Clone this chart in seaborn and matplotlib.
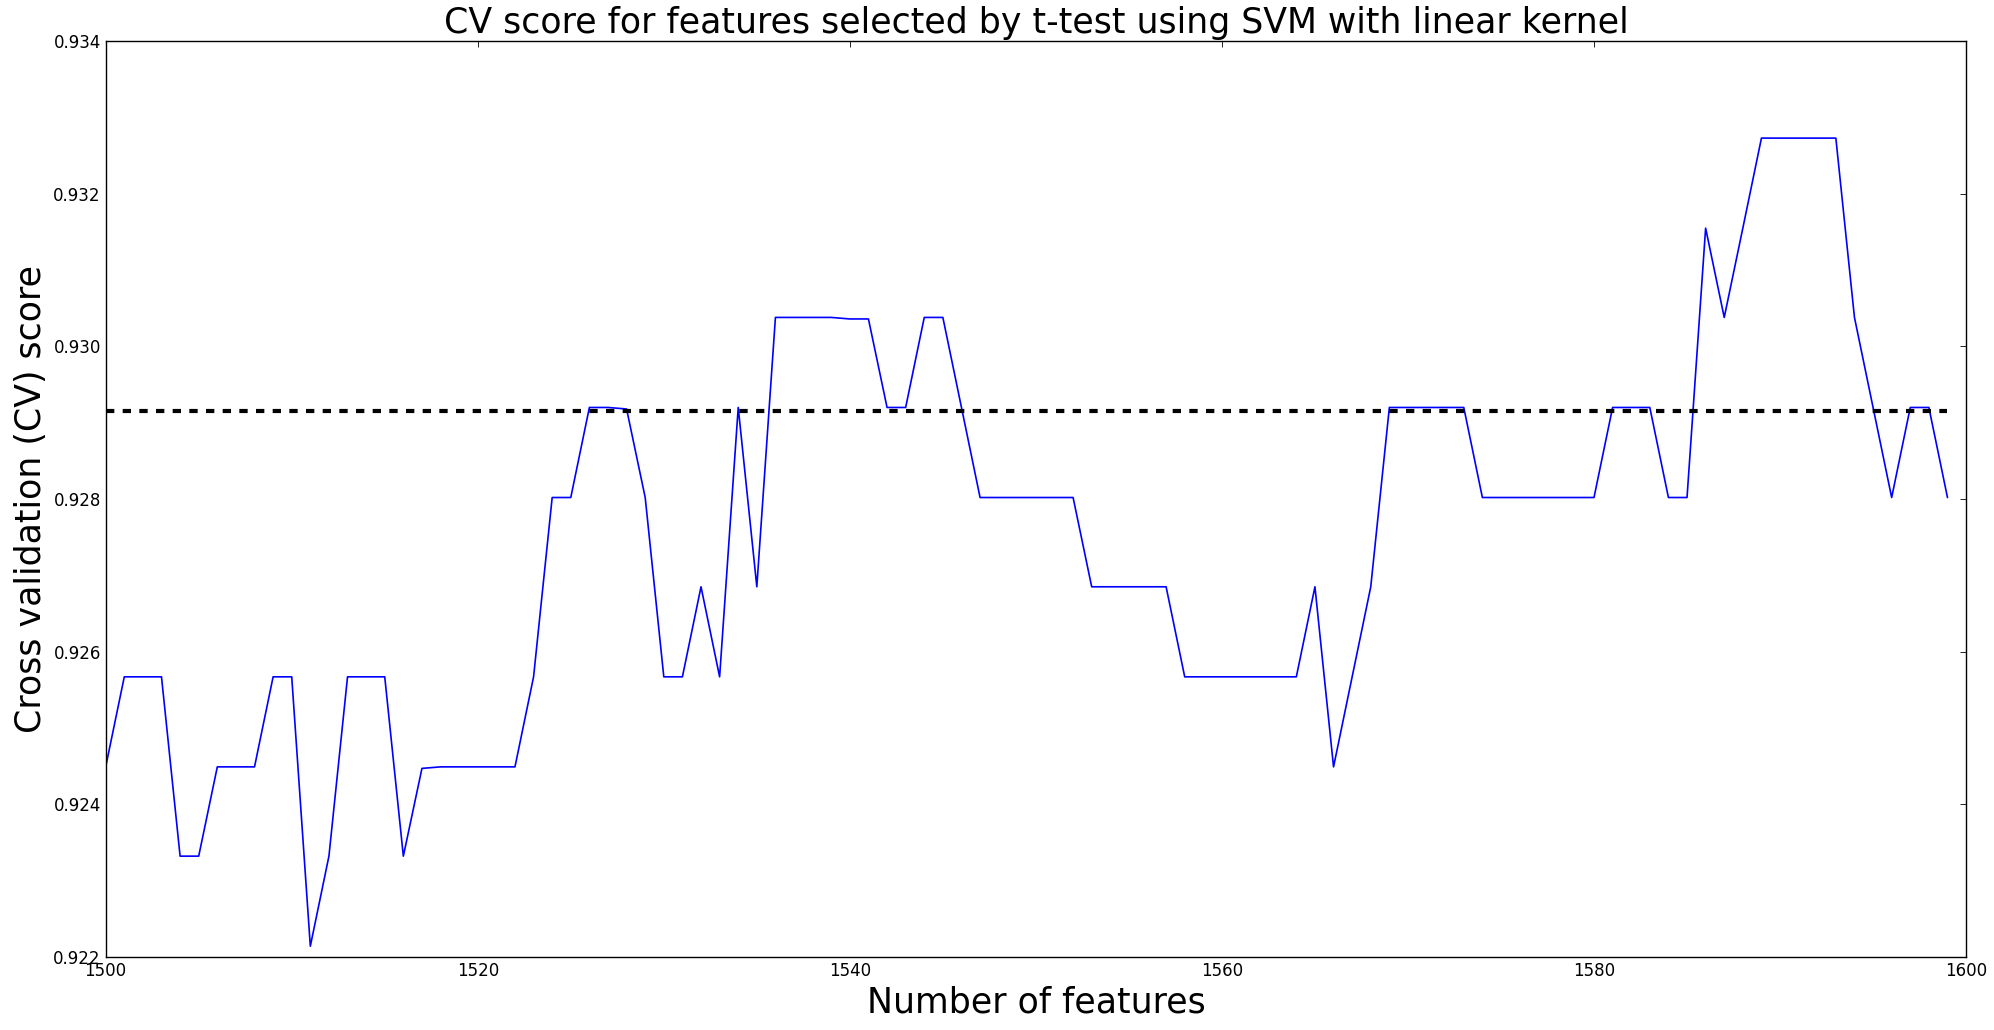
import numpy as np
import pandas as pd
import matplotlib
matplotlib.use("Agg")
import matplotlib.pyplot as plt
import seaborn as sns

# number of features tried and the mean CV score for each
n_features = list(range(1500, 1600))
cv_scores = [
    0.92449, 0.92567, 0.92567, 0.92567, 0.92332, 0.92332, 0.92449, 0.92449, 0.92449, 0.92567,
    0.92567, 0.92214, 0.92332, 0.92567, 0.92567, 0.92567, 0.92332, 0.92447, 0.92449, 0.92449,
    0.92449, 0.92449, 0.92449, 0.92567, 0.92802, 0.92802, 0.92920, 0.92920, 0.92918, 0.92802,
    0.92567, 0.92567, 0.92685, 0.92567, 0.92920, 0.92685, 0.93038, 0.93038, 0.93038, 0.93038,
    0.93036, 0.93036, 0.92920, 0.92920, 0.93038, 0.93038, 0.92920, 0.92802, 0.92802, 0.92802,
    0.92802, 0.92802, 0.92802, 0.92685, 0.92685, 0.92685, 0.92685, 0.92685, 0.92567, 0.92567,
    0.92567, 0.92567, 0.92567, 0.92567, 0.92567, 0.92685, 0.92449, 0.92567, 0.92685, 0.92920,
    0.92920, 0.92920, 0.92920, 0.92920, 0.92802, 0.92802, 0.92802, 0.92802, 0.92802, 0.92802,
    0.92802, 0.92920, 0.92920, 0.92920, 0.92802, 0.92802, 0.93155, 0.93038, 0.93155, 0.93273,
    0.93273, 0.93273, 0.93273, 0.93273, 0.93038, 0.92920, 0.92802, 0.92920, 0.92920, 0.92802,
]
# reference score drawn as the dashed line
ref_score = 0.92916

df = pd.DataFrame({"n": n_features, "score": cv_scores})
df["ref"] = ref_score

sns.set_style("white")
plt.rcParams["font.family"] = ["DejaVu Sans"]
plt.rcParams["lines.scale_dashes"] = False
plt.rcParams.update({
    "xtick.direction": "in", "ytick.direction": "in",
    "xtick.top": True, "ytick.right": True,
    "xtick.major.size": 4, "ytick.major.size": 4,
    "xtick.major.width": 0.6, "ytick.major.width": 0.6,
    "xtick.color": "black", "ytick.color": "black",
    "xtick.labelcolor": "black", "ytick.labelcolor": "black",
    "text.color": "black", "axes.labelcolor": "black",
    "axes.edgecolor": "black", "axes.linewidth": 1.0,
})

fig, ax = plt.subplots(figsize=(19.94, 10.30), dpi=100)
fig.subplots_adjust(left=0.053, right=0.986, top=0.960, bottom=0.071)

sns.lineplot(data=df, x="n", y="score", color="b", linewidth=1.2, ax=ax)
sns.lineplot(data=df, x="n", y="ref", color="k", linewidth=3, ax=ax,
             linestyle="--", dashes=False)
ax.lines[-1].set_dashes((6, 6))

ax.set_xlim(1500, 1600)
ax.set_ylim(0.922, 0.934)
ax.set_xticks(np.arange(1500, 1601, 20))
ax.set_yticks(np.arange(0.922, 0.9341, 0.002))
ax.yaxis.set_major_formatter(matplotlib.ticker.FormatStrFormatter("%.3f"))
ax.tick_params(labelsize=12, colors="black")

ax.set_title("CV score for features selected by t-test using SVM with linear kernel",
             fontsize=25, color="black")
ax.set_xlabel("Number of features", fontsize=25, color="black")
ax.set_ylabel("Cross validation (CV) score", fontsize=25, color="black")

fig.savefig("out.png", dpi=100, facecolor="white")
